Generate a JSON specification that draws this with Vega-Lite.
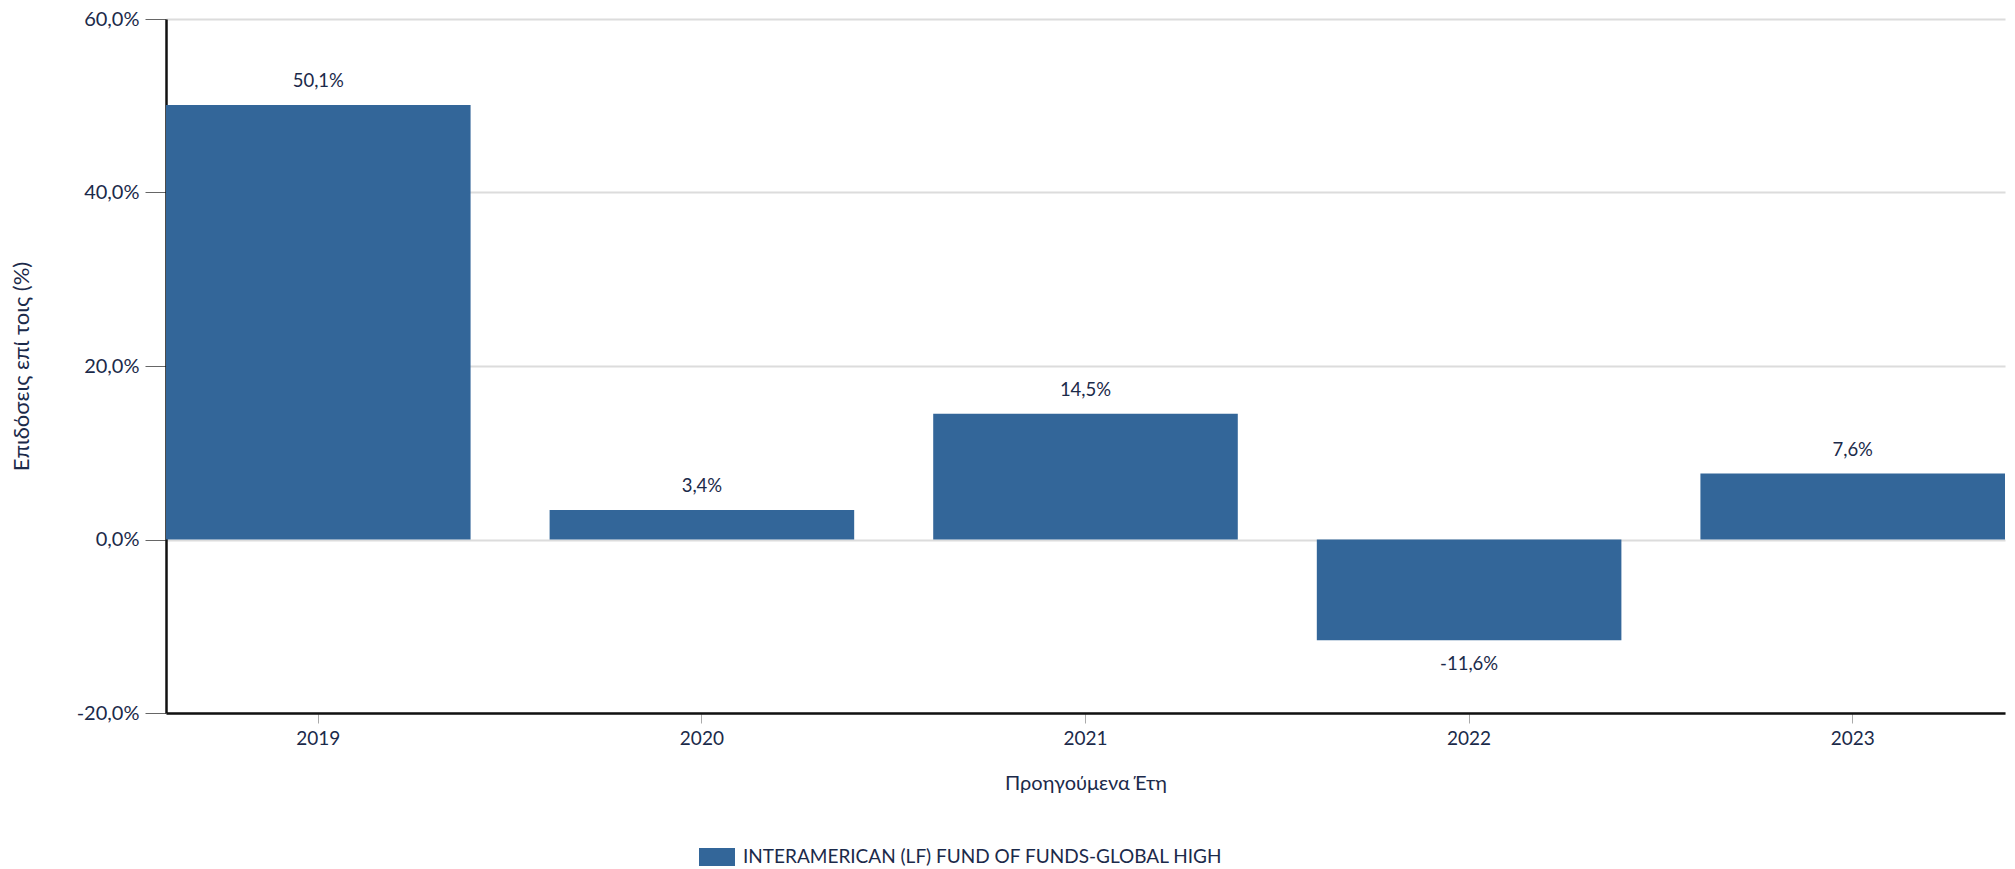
{
  "$schema": "https://vega.github.io/schema/vega-lite/v6.json",
  "autosize": {"type": "none"},
  "padding": {"left": 166, "top": 19, "right": 10, "bottom": 156},
  "width": 1839,
  "height": 694,
  "background": "white",
  "data": {
    "values": [
      {"year": "2019", "value": 0.501, "fund": "INTERAMERICAN (LF) FUND OF FUNDS-GLOBAL HIGH"},
      {"year": "2020", "value": 0.034, "fund": "INTERAMERICAN (LF) FUND OF FUNDS-GLOBAL HIGH"},
      {"year": "2021", "value": 0.145, "fund": "INTERAMERICAN (LF) FUND OF FUNDS-GLOBAL HIGH"},
      {"year": "2022", "value": -0.116, "fund": "INTERAMERICAN (LF) FUND OF FUNDS-GLOBAL HIGH"},
      {"year": "2023", "value": 0.076, "fund": "INTERAMERICAN (LF) FUND OF FUNDS-GLOBAL HIGH"}
    ]
  },
  "encoding": {
    "x": {
      "field": "year", "type": "nominal",
      "scale": {"paddingInner": 0.206, "paddingOuter": 0},
      "axis": {
        "title": "Προηγούμενα Έτη",
        "labelAngle": 0,
        "labelFontSize": 19,
        "titleFontSize": 20,
        "titleFontWeight": "normal",
        "titlePadding": 25,
        "domainColor": "#111111",
        "domainWidth": 2.5,
        "tickColor": "#aaaaaa",
        "tickSize": 10,
        "labelPadding": 6
      }
    },
    "y": {
      "field": "value", "type": "quantitative",
      "scale": {"domain": [-0.2, 0.6], "nice": false, "zero": true},
      "axis": {
        "title": "Επιδόσεις επί τοις (%)",
        "values": [-0.2, 0, 0.2, 0.4, 0.6],
        "format": ".1%",
        "labelFontSize": 20,
        "titleFontSize": 22,
        "titleFontWeight": "normal",
        "titleX": -133,
        "domainColor": "#111111",
        "domainWidth": 2.5,
        "tickColor": "#666666",
        "tickSize": 21,
        "labelPadding": 6,
        "grid": true,
        "gridColor": "#dcdcdc",
        "gridWidth": 2
      }
    }
  },
  "layer": [
    {
      "mark": {"type": "bar", "color": "#336699"},
      "encoding": {
        "color": {
          "field": "fund", "type": "nominal",
          "scale": {"range": ["#336699"]},
          "legend": {
            "title": null,
            "orient": "none",
            "legendX": 533,
            "legendY": 820,
            "symbolType": "M-1,-0.5H1V0.5H-1Z",
            "symbolSize": 1296,
            "symbolStrokeWidth": 0,
            "labelFontSize": 19,
            "labelOffset": 8,
            "labelLimit": 1000
          }
        }
      }
    },
    {
      "transform": [{"filter": "datum.value >= 0"}],
      "mark": {"type": "text", "baseline": "bottom", "dy": -14, "fontSize": 18.5, "color": "#1b2a4a"},
      "encoding": {"text": {"field": "value", "type": "quantitative", "format": ".1%"}}
    },
    {
      "transform": [{"filter": "datum.value < 0"}],
      "mark": {"type": "text", "baseline": "top", "dy": 15, "fontSize": 18.5, "color": "#1b2a4a"},
      "encoding": {"text": {"field": "value", "type": "quantitative", "format": ".1%"}}
    }
  ],
  "config": {
    "locale": {
      "number": {"decimal": ",", "thousands": ".", "grouping": [3], "currency": ["€", ""], "minus": "-"}
    },
    "font": "Lato",
    "view": {"stroke": null},
    "axis": {
      "labelColor": "#1b2a4a",
      "titleColor": "#1b2a4a",
      "labelFont": "Lato",
      "titleFont": "Lato"
    },
    "legend": {"labelColor": "#1b2a4a", "labelFont": "Lato"},
    "text": {"font": "Lato"}
  }
}
